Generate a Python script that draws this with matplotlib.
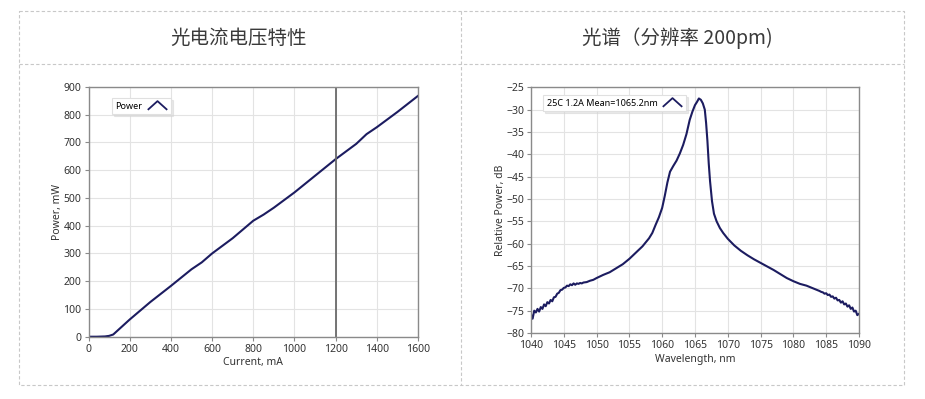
import matplotlib.pyplot as plt
from matplotlib.lines import Line2D

plt.rcParams['font.family'] = ['Noto Sans', 'DejaVu Sans']

# L-I curve
current = [0, 40, 80, 100, 120, 160, 200, 300, 400, 500, 550, 600, 700, 800, 850,
           900, 1000, 1100, 1200, 1300, 1350, 1400, 1500, 1600]
power = [0, 0, 1, 3, 8, 35, 62, 125, 183, 243, 268, 300, 355, 418, 440,
         465, 520, 580, 640, 695, 730, 755, 810, 868]
cursor_current = 1200

# spectrum
wavelength = [
    1040.00, 1040.25, 1040.50, 1040.75, 1041.00, 1041.25, 1041.50, 1041.75,
    1042.00, 1042.25, 1042.50, 1042.75, 1043.00, 1043.25, 1043.50, 1043.75,
    1044.00, 1044.25, 1044.50, 1044.75, 1045.00, 1045.25, 1045.50, 1045.75,
    1046.00, 1046.25, 1046.50, 1046.75, 1047.00, 1047.25, 1047.50, 1047.75,
    1048.00, 1048.5, 1049, 1049.5, 1050, 1051, 1052, 1053, 1054, 1055, 1056,
    1057, 1058, 1058.5, 1059, 1059.5, 1060, 1060.4, 1060.8, 1061.2, 1061.7,
    1062.2, 1062.7, 1063.2, 1063.7, 1064.2, 1064.6, 1065.0, 1065.3, 1065.6,
    1065.9, 1066.2, 1066.5, 1066.7, 1066.9, 1067.1, 1067.3, 1067.6, 1067.9,
    1068.3, 1068.8, 1069.3, 1070, 1071, 1072, 1073, 1074, 1075, 1076, 1077,
    1078, 1079, 1080, 1081, 1082, 1083, 1084,
    1084.25, 1084.50, 1084.75, 1085.00, 1085.25, 1085.50, 1085.75, 1086.00,
    1086.25, 1086.50, 1086.75, 1087.00, 1087.25, 1087.50, 1087.75, 1088.00,
    1088.25, 1088.50, 1088.75, 1089.00, 1089.25, 1089.50, 1089.75, 1090.00]
rel_power = [
    -75.8, -76.8, -75.0, -75.4, -74.6, -75.2, -74.2, -74.6,
    -73.6, -74.0, -73.1, -73.4, -72.6, -72.9, -72.0, -71.9,
    -71.2, -71.0, -70.4, -70.3, -69.9, -69.8, -69.4, -69.5,
    -69.1, -69.3, -68.9, -69.2, -68.9, -69.0, -68.8, -68.9,
    -68.7, -68.6, -68.3, -68.1, -67.7, -67.0, -66.4, -65.5, -64.6, -63.4, -62.0,
    -60.6, -58.8, -57.6, -55.8, -54.1, -52.0, -49.3, -46.3, -43.9, -42.6,
    -41.4, -39.8, -37.9, -35.5, -32.3, -30.5, -29.0, -28.3, -27.5,
    -27.8, -28.6, -30.0, -33.0, -37.0, -42.0, -46.0, -50.5, -53.3,
    -55.0, -56.5, -57.6, -58.9, -60.4, -61.6, -62.6, -63.5, -64.3, -65.1, -65.9,
    -66.8, -67.7, -68.4, -69.0, -69.4, -70.0, -70.6,
    -70.8, -70.9, -71.2, -71.1, -71.5, -71.4, -71.9, -71.8,
    -72.3, -72.1, -72.7, -72.6, -73.2, -72.9, -73.6, -73.4,
    -74.1, -73.8, -74.6, -74.3, -75.2, -75.0, -76.0, -75.7]

navy = '#1c1c60'
chevron = [(-1, -0.45), (0, 0.45), (1, -0.45)]

fig = plt.figure(figsize=(9.25, 3.99), dpi=100)

# table frame
tbl = fig.add_axes([0, 0, 1, 1])
tbl.set_xlim(0, 925)
tbl.set_ylim(399, 0)
tbl.axis('off')
dash = dict(color='#c8c8c8', lw=0.8, ls=(0, (3, 2)))
tbl.plot([19, 904, 904, 19, 19], [11, 11, 385, 385, 11], **dash)
tbl.plot([461, 461], [11, 385], **dash)
tbl.plot([19, 904], [64, 64], **dash)
cjk = ['Noto Sans CJK SC', 'DejaVu Sans']
tbl.text(239, 38, '光电流电压特性', ha='center', va='center', fontsize=14,
         color='#3a3a3a', family=cjk, fontweight='light')
tbl.text(677, 38, '光谱（分辨率 200pm)', ha='center', va='center', fontsize=14,
         color='#3a3a3a', family=cjk, fontweight='light')


def style(ax):
    ax.grid(True, color='#e3e3e3', lw=0.8)
    ax.set_axisbelow(True)
    for s in ax.spines.values():
        s.set_color('#8a8a8a')
        s.set_linewidth(1.0)
    ax.tick_params(labelsize=7.5, colors='#8a8a8a', labelcolor='#333333',
                   length=3, width=0.8, pad=2)
    ax.xaxis.label.set_color('#333333')
    ax.yaxis.label.set_color('#333333')


def add_legend(ax, label, anchor):
    h = Line2D([], [], ls='none', marker=chevron, mfc='none', mec=navy,
               ms=14, mew=1.3)
    leg = ax.legend([h], [label], loc='upper left', bbox_to_anchor=anchor,
                    markerfirst=False, fontsize=6.5, frameon=True, fancybox=False,
                    shadow={'color': '#d4d4d4', 'ox': 1.5, 'oy': -1.5},
                    handlelength=2.4, handletextpad=0.4, borderpad=0.4,
                    borderaxespad=0)
    leg.get_frame().set_edgecolor('#e0e0e0')
    leg.get_frame().set_linewidth(0.8)


ax1 = fig.add_axes([0.0957, 0.1561, 0.3562, 0.6259])
ax1.plot(current, power, color=navy, lw=1.5)
ax1.axvline(cursor_current, color='#6a6a6a', lw=1.3)
ax1.set_xlim(0, 1600)
ax1.set_ylim(0, 900)
ax1.set_xticks(range(0, 1601, 200))
ax1.set_yticks(range(0, 901, 100))
ax1.set_xlabel('Current, mA', fontsize=7.5, labelpad=2)
ax1.set_ylabel('Power, mW', fontsize=7.5, labelpad=0)
style(ax1)
add_legend(ax1, 'Power', (0.071, 0.956))

ax2 = fig.add_axes([0.574, 0.1654, 0.3546, 0.6158])
ax2.plot(wavelength, rel_power, color=navy, lw=1.5)
ax2.set_xlim(1040, 1090)
ax2.set_ylim(-80, -25)
ax2.set_xticks(range(1040, 1091, 5))
ax2.set_yticks(range(-80, -24, 5))
ax2.set_xlabel('Wavelength, nm', fontsize=7.5, labelpad=2)
ax2.set_ylabel('Relative Power, dB', fontsize=7.5, labelpad=0)
style(ax2)
add_legend(ax2, '25C 1.2A Mean=1065.2nm', (0.037, 0.969))

fig.savefig('out.png', dpi=100)
